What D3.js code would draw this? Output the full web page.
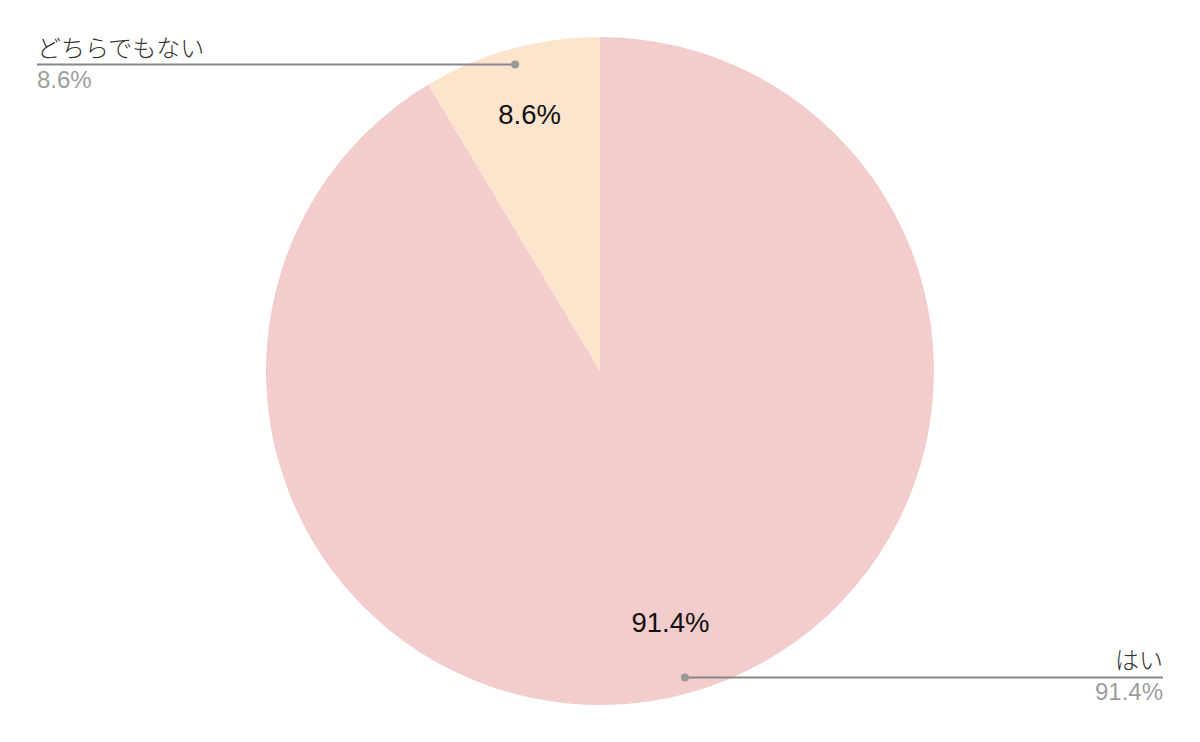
<!DOCTYPE html>
<html><head><meta charset="utf-8">
<script src="https://cdn.jsdelivr.net/npm/d3@7"></script>
<style>html,body{margin:0;padding:0;background:#fff;}</style>
</head><body>
<svg id="chart" width="1200" height="742"></svg>
<script>
const categories = ["はい", "どちらでもない"];
const values = [91.4, 8.6];
const colors = ["#f3cccc", "#fce4cd"];

const W = 1200, H = 742;
const cx = 600, cy = 371, R = 334;
const svg = d3.select("#chart");
const g = svg.append("g").attr("transform", `translate(${cx},${cy})`);

const data = categories.map((c, i) => ({name: c, value: values[i], color: colors[i]}));
const pie = d3.pie().sort(null).value(d => d.value);
const arcs = pie(data);
const arc = d3.arc().innerRadius(0).outerRadius(R);
const labelArc = d3.arc().innerRadius(R * 0.79).outerRadius(R * 0.79);
const dotArc = d3.arc().innerRadius(R * 0.952).outerRadius(R * 0.952);

g.selectAll("path.slice").data(arcs).enter().append("path")
  .attr("class", "slice")
  .attr("d", arc)
  .attr("fill", d => d.data.color);

const fmt = v => v.toFixed(1) + "%";

g.selectAll("text.inner").data(arcs).enter().append("text")
  .attr("class", "inner")
  .attr("x", d => labelArc.centroid(d)[0])
  .attr("y", d => labelArc.centroid(d)[1])
  .attr("dy", "0.26em")
  .attr("text-anchor", "middle")
  .style("font-family", "'Liberation Sans', Arial, sans-serif")
  .style("font-size", "27.5px")
  .attr("fill", "#111")
  .text(d => fmt(d.data.value));

const leftX = 37 - cx, rightX = 1163 - cx;
arcs.forEach(d => {
  const [px, py] = dotArc.centroid(d);
  const mid = (d.startAngle + d.endAngle) / 2;
  const isRight = Math.sin(mid) >= 0;
  const ex = isRight ? rightX : leftX;
  g.append("line")
    .attr("x1", px).attr("y1", py).attr("x2", ex).attr("y2", py)
    .attr("stroke", "#888").attr("stroke-width", 2);
  g.append("circle").attr("cx", px).attr("cy", py).attr("r", 4).attr("fill", "#999");
  g.append("text")
    .attr("x", ex).attr("y", py - 8)
    .attr("text-anchor", isRight ? "end" : "start")
    .style("font-family", "'Noto Sans CJK JP', sans-serif")
    .style("font-size", "24px")
    .style("font-weight", 300)
    .attr("fill", "#333")
    .text(d.data.name);
  g.append("text")
    .attr("x", ex).attr("y", py + 23)
    .attr("text-anchor", isRight ? "end" : "start")
    .style("font-family", "'Liberation Sans', Arial, sans-serif")
    .style("font-size", "24px")
    .attr("fill", "#9e9e9e")
    .text(fmt(d.data.value));
});
</script>
</body></html>
